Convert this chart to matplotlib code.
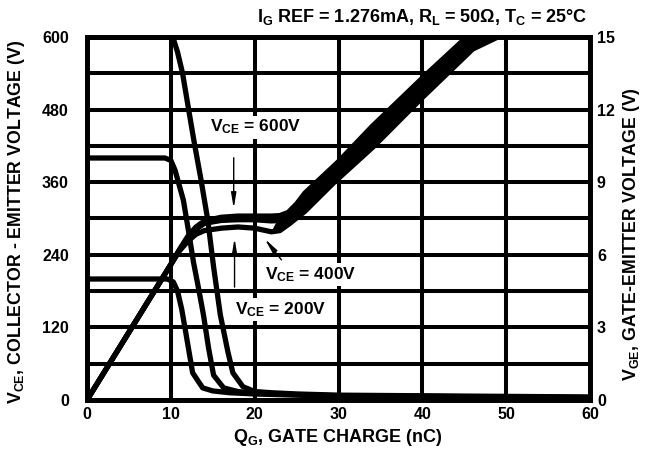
import matplotlib
matplotlib.use("Agg")
import matplotlib.pyplot as plt
import numpy as np

# gate charge curves
# V_CE curves (left axis, volts) vs Q_G (nC)
q_vce_600 = [0, 9.8, 10.3, 10.8, 11.4, 12.1, 12.8, 13.6, 14.4, 15.1, 15.9, 16.8, 17.4, 18.6, 20, 22, 25, 30, 40, 50, 60]
vce_600 = [600, 600, 597, 575, 540, 482, 425, 364, 298, 220, 141, 80, 45, 22, 14, 12, 10, 8, 7, 6, 5]

q_vce_400 = [0, 9.3, 10.0, 10.5, 11.0, 11.5, 12.1, 12.7, 13.3, 13.9, 14.5, 15.1, 16.3, 18, 20, 25, 30, 40, 50, 60]
vce_400 = [400, 400, 396, 380, 355, 330, 280, 228, 185, 140, 86, 41, 20, 14, 11, 9, 7, 6, 5, 4]

q_vce_200 = [0, 9.6, 10.3, 10.8, 11.3, 11.8, 12.6, 13.8, 15, 17, 20, 25, 30, 40, 50, 60]
vce_200 = [200, 200, 195, 180, 150, 110, 45, 20, 15, 12, 10, 8, 6, 5, 5, 4]

# V_GE curves (right axis, volts)
q_vge_600 = [0, 10, 11, 12, 13, 14, 16, 18, 20, 22, 23, 24, 25, 26, 28, 30, 34, 40, 45.3]
vge_600 = [0, 5.6, 6.2, 6.75, 7.15, 7.4, 7.55, 7.6, 7.6, 7.6, 7.62, 7.75, 8.1, 8.55, 9.2, 9.85, 11.3, 13.3, 15.0]

q_vge_400 = [0, 10, 11, 12, 13, 14, 16, 18, 20, 22, 23, 24, 26, 28, 30, 34, 40, 47.5]
vge_400 = [0, 5.6, 6.18, 6.68, 7.05, 7.3, 7.42, 7.45, 7.45, 7.4, 7.42, 7.55, 8.1, 8.8, 9.5, 10.9, 12.9, 15.0]

q_vge_200 = [0, 10, 11, 12, 13, 14, 16, 18, 20, 22, 23, 24.2, 26, 29.4, 34.1, 40, 46, 49]
vge_200 = [0, 5.6, 6.15, 6.55, 6.85, 7.0, 7.1, 7.15, 7.1, 6.95, 7.0, 7.3, 7.8, 8.97, 10.45, 12.5, 14.5, 15.0]

x_ticks = [0, 10, 20, 30, 40, 50, 60]
vce_ticks = [0, 120, 240, 360, 480, 600]
vge_ticks = [0, 3, 6, 9, 12, 15]

plt.rcParams['font.family'] = ['Liberation Sans', 'DejaVu Sans']
plt.rcParams['font.weight'] = 'bold'
plt.rcParams['mathtext.fontset'] = 'custom'
plt.rcParams['mathtext.rm'] = 'Liberation Sans:bold'
plt.rcParams['mathtext.it'] = 'Liberation Sans:bold'
plt.rcParams['mathtext.bf'] = 'Liberation Sans:bold'
plt.rcParams['mathtext.default'] = 'rm'

fig = plt.figure(figsize=(6.5, 4.58), dpi=100)
ax = fig.add_axes([87/650, 58/458, 503/650, 363/458])
ax2 = ax.twinx()

lw = 3.8
ax.plot(q_vce_600, vce_600, color='black', lw=lw, solid_capstyle='butt')
ax.plot(q_vce_400, vce_400, color='black', lw=lw, solid_capstyle='butt')
ax.plot(q_vce_200, vce_200, color='black', lw=lw, solid_capstyle='butt')
ax2.plot(q_vge_600, vge_600, color='black', lw=lw, solid_capstyle='butt')
ax2.plot(q_vge_400, vge_400, color='black', lw=lw, solid_capstyle='butt')
ax2.plot(q_vge_200, vge_200, color='black', lw=lw, solid_capstyle='butt')

# the rising V_GE traces merge into one solid band in the original
up_x = [x for x in q_vge_600 if x >= 23]
up_y = [y for x, y in zip(q_vge_600, vge_600) if x >= 23]
lo_x = [x for x in q_vge_200 if x >= 22]
lo_y = [y for x, y in zip(q_vge_200, vge_200) if x >= 22]
ax2.fill(up_x + lo_x[::-1], up_y + lo_y[::-1], color='black', lw=0)

ax.set_xlim(0, 60)
ax.set_ylim(0, 600)
ax2.set_ylim(0, 15)

ax.set_xticks(x_ticks)
ax.set_yticks(vce_ticks)
ax.set_yticks(np.arange(0, 601, 60), minor=True)
ax2.set_yticks(vge_ticks)

ax.grid(True, which='both', color='black', lw=2.9)
ax.set_axisbelow(True)
for a in (ax, ax2):
    for s in a.spines.values():
        s.set_linewidth(3.4)
ax.tick_params(axis='both', which='both', length=0, labelsize=11.5)
ax.tick_params(axis='y', pad=13)
ax.tick_params(axis='x', pad=5)
ax2.tick_params(axis='y', length=0, labelsize=11.5, pad=5)

# annotations (white box hides the grid behind the label, as in the original)
arrow = dict(arrowstyle='-|>,head_width=0.15,head_length=0.9', color='black', lw=1)
box = dict(facecolor='white', edgecolor='none', pad=1.5)
ax.text(14.7, 451, 'V$_{CE}$ = 600V', fontsize=12.5, va='center', ha='left', bbox=box, zorder=5)
ax.annotate('', xy=(17.5, 312), xytext=(17.5, 405), arrowprops=arrow)
ax.text(21.2, 208, 'V$_{CE}$ = 400V', fontsize=12.5, va='center', ha='left', bbox=box, zorder=5)
ax.annotate('', xy=(21.0, 270), xytext=(23.4, 228), arrowprops=arrow)
ax.text(17.7, 150, 'V$_{CE}$ = 200V', fontsize=12.5, va='center', ha='left', bbox=box, zorder=5)
ax.annotate('', xy=(17.6, 272), xytext=(17.6, 182), arrowprops=arrow)

fig.text(587/650, 1 - 17/458, 'I$_G$ REF = 1.276mA, R$_L$ = 50\u03a9, T$_C$ = 25\u00b0C',
         ha='right', va='center', fontsize=13)
fig.text(0.52, 1 - 437/458, 'Q$_G$, GATE CHARGE (nC)', ha='center', va='center', fontsize=13)
fig.text(17/650, 0.515, 'V$_{CE}$, COLLECTOR - EMITTER VOLTAGE (V)', rotation=90,
         ha='center', va='center', fontsize=12.8)
fig.text(632/650, 0.49, 'V$_{GE}$, GATE-EMITTER VOLTAGE (V)', rotation=90,
         ha='center', va='center', fontsize=12.8)

fig.savefig('out.png', dpi=100)
